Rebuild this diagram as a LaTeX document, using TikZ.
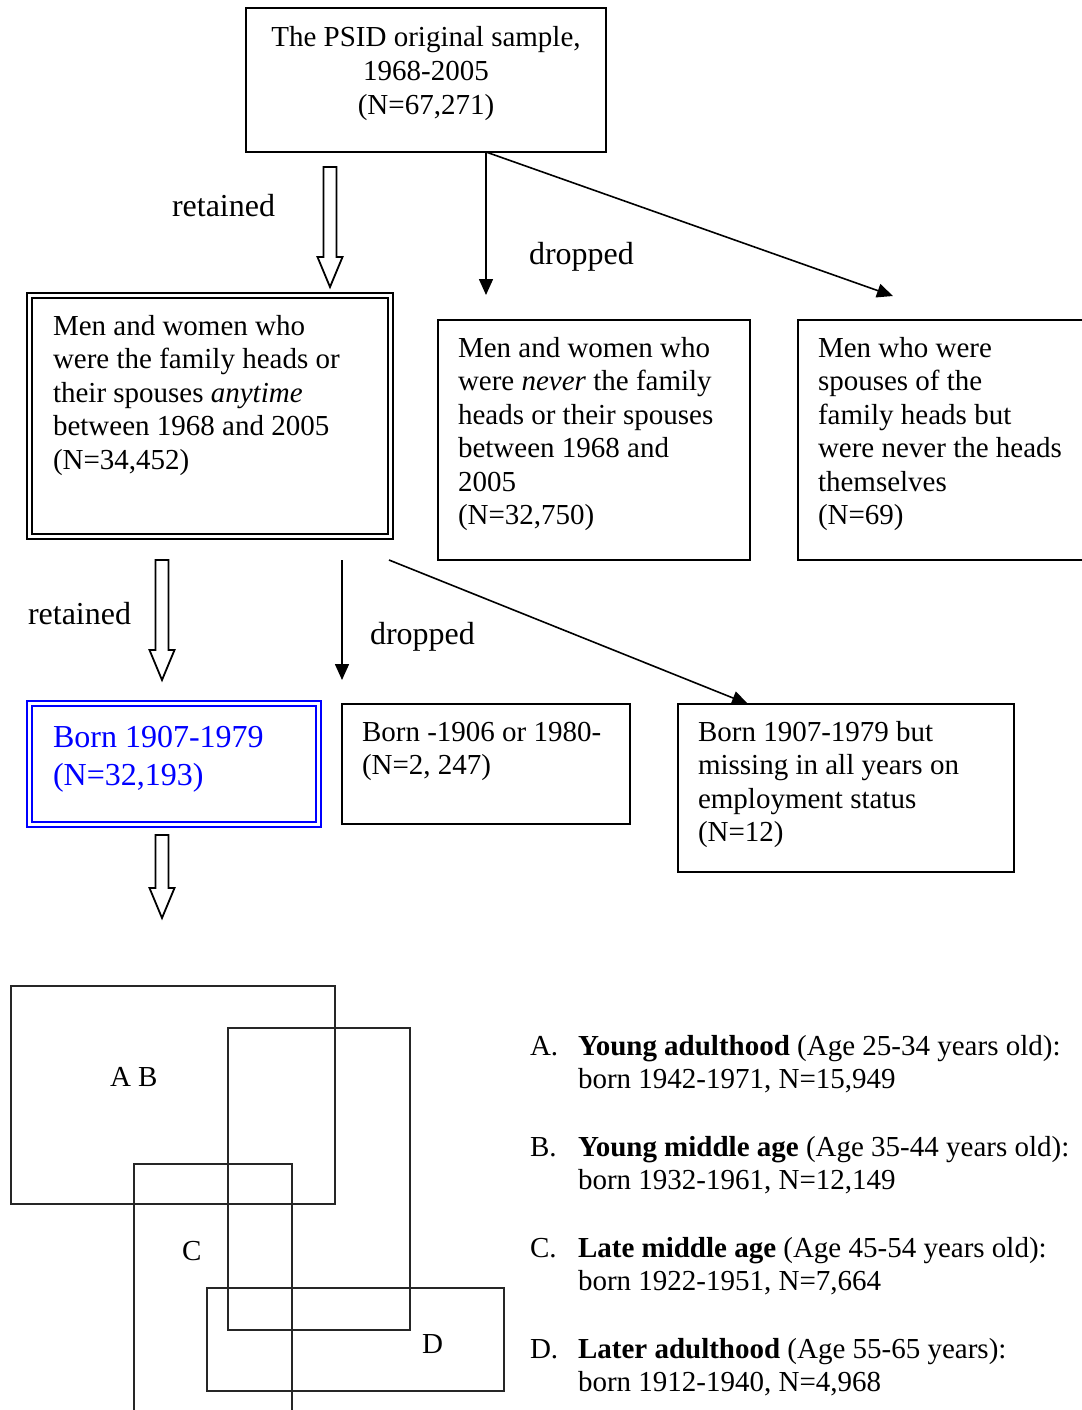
\documentclass[tikz,border=0pt]{standalone}
\usepackage{fontspec}
\setmainfont{Liberation Serif}
\usetikzlibrary{arrows.meta}
\definecolor{pureblue}{RGB}{0,0,255}
\tikzset{
  box/.style={draw, line width=2pt, inner sep=0pt, outer sep=0pt, anchor=north west},
  dbox/.style={box, double, double distance=2.4pt, line width=2pt},
  txt/.style={inner sep=0pt, outer sep=0pt, anchor=base west, align=left, font=\fontsize{29}{33.5}\selectfont},
  bluetxt/.style={txt, text=pureblue, font=\fontsize{32}{38}\selectfont},
  lbl/.style={txt, font=\fontsize{32}{38}\selectfont},
  arr/.style={line width=1.6pt, -{Triangle[length=16pt,width=14pt]}},
  blk/.style={line width=1.8pt, line join=miter},
  venn/.style={line width=1.8pt, draw=black!85, inner sep=0pt, outer sep=0pt, anchor=north west}
}
\newcommand\openarrow[3]{%
  \draw[blk] (#1-6.5,#2) -- (#1+6.5,#2) -- (#1+6.5,#3-30) -- (#1+12.5,#3-30) -- (#1,#3) -- (#1-12.5,#3-30) -- (#1-6.5,#3-30) -- cycle;}
\begin{document}
\begin{tikzpicture}[x=1pt,y=-1pt]
\useasboundingbox (0,0) rectangle (1081,1410);
% boxes
\node[box, minimum width=360pt, minimum height=144pt] (top) at (246,8) {};
\node[dbox, minimum width=361pt, minimum height=241pt] (heads) at (29.5,295.5) {};
\node[box, minimum width=312pt, minimum height=240pt] (never) at (438,320) {};
\node[box, minimum width=300pt, minimum height=240pt] (spouse) at (798,320) {};
\node[dbox, draw=pureblue, minimum width=289pt, minimum height=121pt] (born) at (29.5,703.5) {};
\node[box, minimum width=288pt, minimum height=120pt] (out) at (342,704) {};
\node[box, minimum width=336pt, minimum height=168pt] (miss) at (678,704) {};
% texts (anchored at the baseline of the last line)
\node[txt, anchor=base, align=center] (toptxt) at (426,114) {The PSID original sample,\\1968-2005\\(N=67,271)};
\node[txt] (headstxt) at (53,469) {Men and women who\\were the family heads or\\their spouses \textit{anytime}\\between 1968 and 2005\\(N=34,452)};
\node[txt] (nevertxt) at (458,524.5) {Men and women who\\were \textit{never} the family\\heads or their spouses\\between 1968 and\\2005\\(N=32,750)};
\node[txt] (spousetxt) at (818,524.5) {Men who were\\spouses of the\\family heads but\\were never the heads\\themselves\\(N=69)};
\node[bluetxt] (borntxt) at (53,785) {Born 1907-1979\\(N=32,193)};
\node[txt] (outtxt) at (362,774.5) {Born -1906 or 1980-\\(N=2, 247)};
\node[txt] (misstxt) at (698,841.5) {Born 1907-1979 but\\missing in all years on\\employment status\\(N=12)};
% labels
\node[lbl] (ret1) at (172,216) {retained};
\node[lbl] (drop1) at (529,264) {dropped};
\node[lbl] (ret2) at (28,624) {retained};
\node[lbl] (drop2) at (370,644) {dropped};
% thin arrows
\coordinate (t1) at (486,152);
\coordinate (e1) at (486,295);
\coordinate (e2) at (893,296);
\coordinate (t2) at (342,560);
\coordinate (e3) at (342,680);
\coordinate (t3) at (389,560);
\coordinate (e4) at (748,704);
\draw[arr] (t1) -- (e1);
\draw[arr] (t1) -- (e2);
\draw[arr] (t2) -- (e3);
\draw[arr] (t3) -- (e4);
% open block arrows
\openarrow{330}{167}{287}
\openarrow{162}{560}{680}
\openarrow{162}{835}{918}
% overlapping rectangles
\node[venn, minimum width=324pt, minimum height=218pt] (rAB) at (11,986) {};
\node[venn, minimum width=182pt, minimum height=302pt] (rB) at (228,1028) {};
\node[venn, minimum width=158pt, minimum height=260pt] (rC) at (134,1164) {};
\node[venn, minimum width=297pt, minimum height=103pt] (rD) at (207,1288) {};
\node[txt] (lAB) at (110,1086) {A B};
\node[txt] (lC) at (182,1260) {C};
\node[txt] (lD) at (422,1353) {D};
% legend
\node[txt] (la) at (530,1055) {A.};
\node[txt] (lat) at (578,1088.5) {\textbf{Young adulthood} (Age 25-34 years old):\\born 1942-1971, N=15,949};
\node[txt] (lb) at (530,1156) {B.};
\node[txt] (lbt) at (578,1189.5) {\textbf{Young middle age} (Age 35-44 years old):\\born 1932-1961, N=12,149};
\node[txt] (lc) at (530,1257) {C.};
\node[txt] (lct) at (578,1290.5) {\textbf{Late middle age} (Age 45-54 years old):\\born 1922-1951, N=7,664};
\node[txt] (ld) at (530,1358) {D.};
\node[txt] (ldt) at (578,1391.5) {\textbf{Later adulthood} (Age 55-65 years):\\born 1912-1940, N=4,968};
\end{tikzpicture}
\end{document}
